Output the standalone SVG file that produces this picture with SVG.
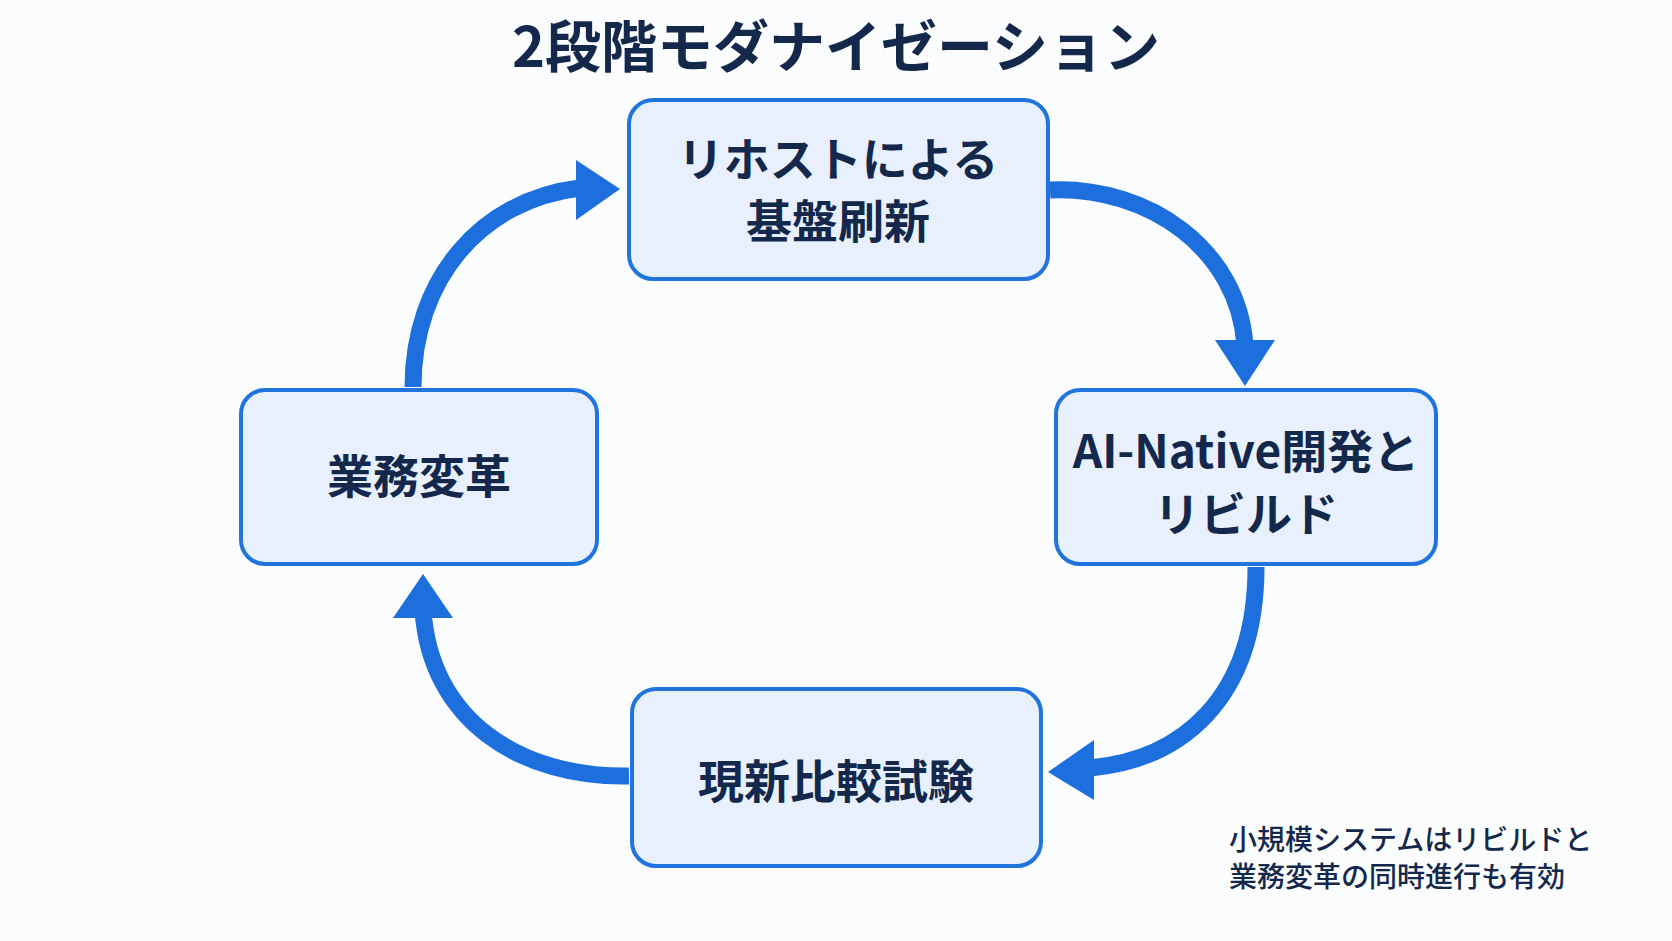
<svg xmlns="http://www.w3.org/2000/svg" width="1672" height="941" viewBox="0 0 1672 941">
<style>
.box{fill:#e7f0fc;stroke:#1f74de;stroke-width:4}
.t{font-family:"Noto Sans CJK JP","Noto Sans",sans-serif;font-weight:700;fill:#14284b;text-anchor:middle}
.n{font-size:46px}
.arc{fill:none;stroke:#1c6fdc;stroke-width:17}
.hd{fill:#1c6fdc}
</style>
<rect width="1672" height="941" fill="#fbfcfe"/>
<text class="t" x="836" y="67" font-size="56">2段階モダナイゼーション</text>
<g id="connectors">
<path class="arc" d="M1050,190 C1150,186 1238,250 1245,345"/>
<polygon class="hd" points="1215,340 1275,340 1245,386"/>
<path class="arc" d="M1256,567 C1256,700 1180,760 1090,768"/>
<polygon class="hd" points="1094,740 1094,800 1048,772"/>
<path class="arc" d="M629,776 C520,778 430,720 423,610"/>
<polygon class="hd" points="393,618 453,618 423,574"/>
<path class="arc" d="M413,387 C413,280 480,200 580,188"/>
<polygon class="hd" points="576,160 576,220 620,189"/>
</g>
<g id="n1"><rect class="box" x="629" y="100" width="419" height="179" rx="24"/>
<text class="t n" x="838" y="176">リホストによる</text><text class="t n" x="838" y="238">基盤刷新</text></g>
<g id="n2"><rect class="box" x="1056" y="390" width="380" height="174" rx="24"/>
<text class="t n" x="1246" y="468">AI-Native開発と</text><text class="t n" x="1246" y="531">リビルド</text></g>
<g id="n3"><rect class="box" x="632" y="689" width="409" height="177" rx="24"/>
<text class="t n" x="836" y="798">現新比較試験</text></g>
<g id="n4"><rect class="box" x="241" y="390" width="356" height="174" rx="24"/>
<text class="t n" x="419" y="493">業務変革</text></g>
<g id="note"><text class="t" style="font-weight:500;text-anchor:start" x="1229" y="850" font-size="28">小規模システムはリビルドと</text>
<text class="t" style="font-weight:500;text-anchor:start" x="1229" y="887" font-size="28">業務変革の同時進行も有効</text></g>
</svg>
